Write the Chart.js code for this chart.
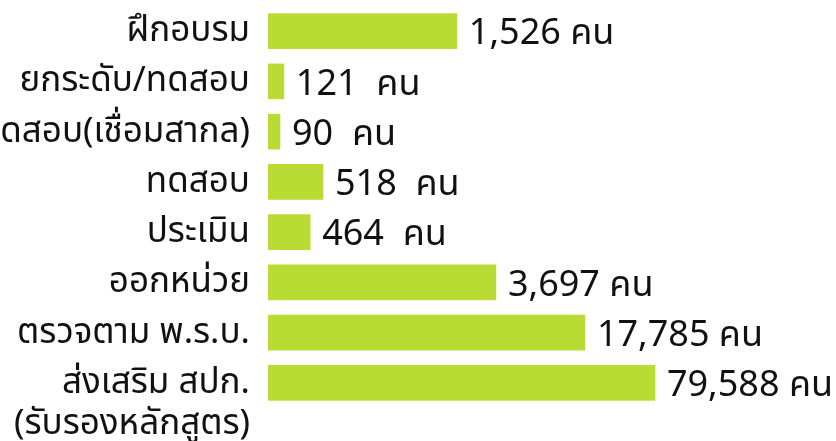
<!DOCTYPE html>
<html>
<head>
<meta charset="utf-8">
<script src="https://cdn.jsdelivr.net/npm/chart.js@4/dist/chart.umd.min.js"></script>
<style>
  html, body { margin: 0; padding: 0; background: #ffffff; }
  #wrap { width: 836px; height: 441px; position: relative; }
</style>
</head>
<body>
<div id="wrap"><canvas id="c" width="836" height="441"></canvas></div>
<script>
// Categories (top to bottom)
const categories = [
  'ฝึกอบรม',
  'ยกระดับ/ทดสอบ',
  'ทดสอบ(เชื่อมสากล)',
  'ทดสอบ',
  'ประเมิน',
  'ออกหน่วย',
  'ตรวจตาม พ.ร.บ.',
  ['', 'ส่งเสริม สปก.', '(รับรองหลักสูตร)']
];
// Number of people shown next to each bar
const counts = [1526, 121, 90, 518, 464, 3697, 17785, 79588];
const unit = 'คน';
// Bar lengths as drawn in the picture (index, longest bar = 100) — the bars are not proportional to counts
const barLengths = [48.8, 4.1, 3.1, 14.2, 10.9, 58.9, 81.9, 100];

function countLabel(n) {
  return n < 1000 ? n + '  ' + unit : n.toLocaleString('en-US') + ' ' + unit;
}

const FONT = "'Noto Sans', 'Noto Sans Thai', 'Liberation Sans', sans-serif";

const valueLabelPlugin = {
  id: 'valueLabels',
  afterDatasetsDraw(chart) {
    const ctx = chart.ctx;
    const meta = chart.getDatasetMeta(0);
    ctx.save();
    ctx.font = '36px ' + FONT;
    ctx.fillStyle = '#111111';
    ctx.textAlign = 'left';
    ctx.textBaseline = 'middle';
    meta.data.forEach((bar, i) => {
      ctx.fillText(countLabel(counts[i]), bar.x + 12, bar.y + 3);
    });
    ctx.restore();
  }
};

new Chart(document.getElementById('c'), {
  type: 'bar',
  data: {
    labels: categories,
    datasets: [{
      data: barLengths,
      backgroundColor: '#b9dc34',
      borderWidth: 0,
      barThickness: 35
    }]
  },
  options: {
    indexAxis: 'y',
    responsive: false,
    animation: false,
    layout: { padding: { top: 6, bottom: 33, left: 0, right: 0 } },
    plugins: { legend: { display: false }, tooltip: { enabled: false } },
    scales: {
      x: { display: false, min: 0, max: 146.8 },
      y: {
        grid: { display: false, drawTicks: false },
        border: { display: false },
        ticks: {
          autoSkip: false,
          color: '#111111',
          padding: 18,
          font: { family: FONT, size: 35, lineHeight: 1.18 }
        },
        afterFit(scale) {
          scale.width = 268;
          scale.paddingTop = 0;
          scale.paddingBottom = 0;
        }
      }
    }
  },
  plugins: [valueLabelPlugin]
});
</script>
</body>
</html>
